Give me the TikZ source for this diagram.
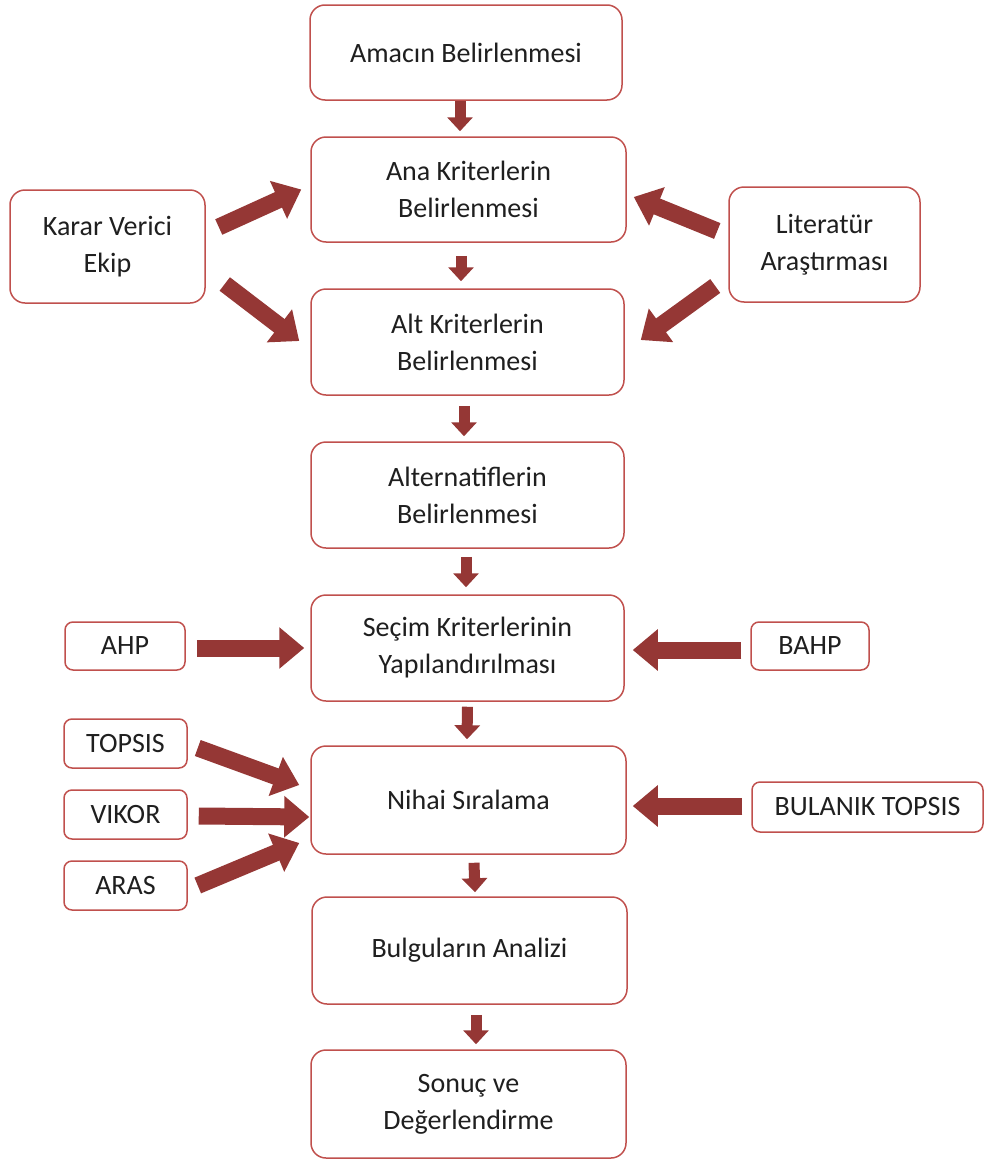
\documentclass[tikz,border=0pt]{standalone}
\usepackage{fontspec}
\setmainfont{Carlito}
\usetikzlibrary{arrows.meta}
\definecolor{boxline}{HTML}{C0504D}
\definecolor{arrowred}{HTML}{953735}
\definecolor{txt}{HTML}{1F1F1F}
\tikzset{
  stepbox/.style={draw=boxline, line width=1.5pt, rounded corners=15pt, fill=white,
    align=center, text=txt, font=\fontsize{28}{37}\selectfont, inner sep=0pt},
  methodbox/.style={stepbox, rounded corners=8pt},
  downarrow/.style={draw=arrowred, line width=11pt, -{Triangle[width=25pt,length=14pt]}},
  fatarrow/.style={draw=arrowred, line width=17pt, -{Triangle[width=40pt,length=25pt]}},
}
\begin{document}
\begin{tikzpicture}[x=1pt,y=-1pt]
\useasboundingbox (0,0) rectangle (984,1162);

% main sequence of steps
\node[stepbox, minimum width=312pt, minimum height=95pt]  (a) at (466,52.5)   {Amacın Belirlenmesi};
\node[stepbox, minimum width=315pt, minimum height=105pt] (b) at (468.5,189.5) {Ana Kriterlerin\\Belirlenmesi};
\node[stepbox, minimum width=313pt, minimum height=106pt] (c) at (467.5,342)  {Alt Kriterlerin\\Belirlenmesi};
\node[stepbox, minimum width=313pt, minimum height=106pt] (d) at (467.5,495)  {Alternatiflerin\\Belirlenmesi};
\node[stepbox, minimum width=313pt, minimum height=106pt] (e) at (467.5,648)  {Seçim Kriterlerinin\\Yapılandırılması};
\node[stepbox, minimum width=315pt, minimum height=108pt] (f) at (468.5,800)  {Nihai Sıralama};
\node[stepbox, minimum width=315pt, minimum height=107pt] (g) at (469.5,950.5) {Bulguların Analizi};
\node[stepbox, minimum width=315pt, minimum height=108pt] (h) at (468.5,1104) {Sonuç ve\\Değerlendirme};

% inputs to the criteria steps
\node[stepbox, minimum width=195pt, minimum height=113pt] (k) at (107.5,246.5) {Karar Verici\\Ekip};
\node[stepbox, minimum width=191pt, minimum height=115pt] (l) at (824.5,244.5) {Literatür\\Araştırması};

% methods
\node[methodbox, minimum width=120pt, minimum height=48pt] (ahp)    at (125,646)   {AHP};
\node[methodbox, minimum width=118pt, minimum height=48pt] (bahp)   at (810,646)   {BAHP};
\node[methodbox, minimum width=123pt, minimum height=49pt] (topsis) at (125.5,743.5) {TOPSIS};
\node[methodbox, minimum width=123pt, minimum height=49pt] (vikor)  at (125.5,814.5) {VIKOR};
\node[methodbox, minimum width=123pt, minimum height=49pt] (aras)   at (125.5,885.5) {ARAS};
\node[methodbox, minimum width=231pt, minimum height=50pt] (bt)     at (867.5,807) {BULANIK TOPSIS};

% flow between steps
\draw[downarrow] ([xshift=-6pt]a.south) -- ([xshift=-8.5pt,yshift=5pt]b.north);
\draw[downarrow] ([xshift=-7.5pt,yshift=-13pt]b.south) -- ([xshift=-6.5pt,yshift=7pt]c.north);
\draw[downarrow] ([xshift=-3.5pt,yshift=-10pt]c.south) -- ([xshift=-3.5pt,yshift=5pt]d.north);
\draw[downarrow] ([xshift=-1.5pt,yshift=-8pt]d.south) -- ([xshift=-1.5pt,yshift=7pt]e.north);
\draw[downarrow] ([yshift=-5pt]e.south) -- ([xshift=-1.5pt,yshift=6pt]f.north);
\draw[downarrow] ([xshift=5.5pt,yshift=-8pt]f.south) -- ([xshift=5.5pt,yshift=4pt]g.north);
\draw[downarrow] ([xshift=6.5pt,yshift=-10pt]g.south) -- ([xshift=7.5pt,yshift=5pt]h.north);

% inputs
\draw[fatarrow] ([xshift=13pt,yshift=19.5pt]k.east) -- ([xshift=-9pt]b.west);
\draw[fatarrow] ([xshift=19pt,yshift=-37.5pt]k.east) -- ([xshift=-11pt,yshift=1pt]c.west);
\draw[fatarrow] ([xshift=-11pt,yshift=13.5pt]l.west) -- ([xshift=7pt,yshift=-7.5pt]b.east);
\draw[fatarrow] ([xshift=-13pt,yshift=-41.5pt]l.west) -- ([xshift=16pt,yshift=2pt]c.east);

\draw[fatarrow] ([xshift=11pt,yshift=-2pt]ahp.east) -- ([xshift=-6pt]e.west);
\draw[fatarrow] ([xshift=-9pt,yshift=-4pt]bahp.west) -- ([xshift=8pt,yshift=-2pt]e.east);
\draw[fatarrow] ([xshift=10pt,yshift=-4.5pt]topsis.east) -- ([xshift=-11pt,yshift=15pt]f.west);
\draw[fatarrow] ([xshift=11pt,yshift=-1.5pt]vikor.east) -- ([xshift=-1pt,yshift=-17pt]f.west);
\draw[fatarrow] ([xshift=10pt]aras.east) -- ([xshift=-11pt,yshift=-43pt]f.west);
\draw[fatarrow] ([xshift=-9pt,yshift=1pt]bt.west) -- ([xshift=6pt,yshift=-6pt]f.east);
\end{tikzpicture}
\end{document}
